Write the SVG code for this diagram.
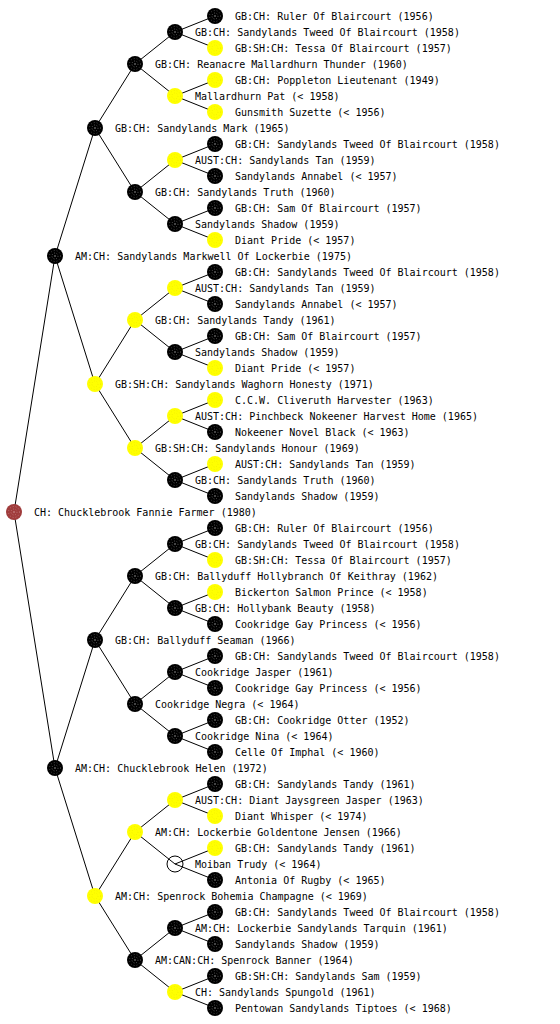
<svg xmlns="http://www.w3.org/2000/svg" xmlns:xlink="http://www.w3.org/1999/xlink" width="560" height="1024" viewBox="0 0 560 1024">
<style>
text{font-family:"DejaVu Sans Mono","Liberation Mono",monospace;font-size:10px;fill:#000}
.e line{stroke:#000;stroke-width:1}
</style>
<defs>
<g id="blk"><circle r="8" fill="#000"/><circle r="5.5" fill="none" stroke="#888" stroke-width="0.6" stroke-dasharray="0.8 2.2"/><circle r="3" fill="none" stroke="#aaa" stroke-width="0.6" stroke-dasharray="0.8 1.8"/><circle r="0.7" fill="#bbb"/></g>
<g id="yel"><circle r="8" fill="#ffff00"/><circle r="5.5" fill="none" stroke="#e8e000" stroke-width="0.6" stroke-dasharray="0.8 2.2"/><circle r="3" fill="none" stroke="#e8e000" stroke-width="0.6" stroke-dasharray="0.8 1.8"/></g>
<g id="red"><circle r="8" fill="#a03c3c"/><circle r="5.5" fill="none" stroke="#d8a0a0" stroke-width="0.6" stroke-dasharray="0.8 2.2"/><circle r="3" fill="none" stroke="#d8a0a0" stroke-width="0.6" stroke-dasharray="0.8 1.8"/><circle r="0.7" fill="#e0b0b0"/></g>
<g id="wht"><circle r="8" fill="none" stroke="#000" stroke-width="1"/></g>
</defs>
<rect width="560" height="1024" fill="#fff"/>
<g class="e" id="connectors">
<line x1="14" y1="512" x2="55" y2="256"/><line x1="14" y1="512" x2="55" y2="768"/>
<line x1="55" y1="256" x2="95" y2="128"/><line x1="55" y1="256" x2="95" y2="384"/>
<line x1="55" y1="768" x2="95" y2="640"/><line x1="55" y1="768" x2="95" y2="896"/>
<line x1="95" y1="128" x2="135" y2="64"/><line x1="95" y1="128" x2="135" y2="192"/>
<line x1="95" y1="384" x2="135" y2="320"/><line x1="95" y1="384" x2="135" y2="448"/>
<line x1="95" y1="640" x2="135" y2="576"/><line x1="95" y1="640" x2="135" y2="704"/>
<line x1="95" y1="896" x2="135" y2="832"/><line x1="95" y1="896" x2="135" y2="960"/>
<line x1="135" y1="64" x2="175" y2="32"/><line x1="135" y1="64" x2="175" y2="96"/>
<line x1="135" y1="192" x2="175" y2="160"/><line x1="135" y1="192" x2="175" y2="224"/>
<line x1="135" y1="320" x2="175" y2="288"/><line x1="135" y1="320" x2="175" y2="352"/>
<line x1="135" y1="448" x2="175" y2="416"/><line x1="135" y1="448" x2="175" y2="480"/>
<line x1="135" y1="576" x2="175" y2="544"/><line x1="135" y1="576" x2="175" y2="608"/>
<line x1="135" y1="704" x2="175" y2="672"/><line x1="135" y1="704" x2="175" y2="736"/>
<line x1="135" y1="832" x2="175" y2="800"/><line x1="135" y1="832" x2="175" y2="864"/>
<line x1="135" y1="960" x2="175" y2="928"/><line x1="135" y1="960" x2="175" y2="992"/>
<line x1="175" y1="32" x2="215" y2="16"/><line x1="175" y1="32" x2="215" y2="48"/>
<line x1="175" y1="96" x2="215" y2="80"/><line x1="175" y1="96" x2="215" y2="112"/>
<line x1="175" y1="160" x2="215" y2="144"/><line x1="175" y1="160" x2="215" y2="176"/>
<line x1="175" y1="224" x2="215" y2="208"/><line x1="175" y1="224" x2="215" y2="240"/>
<line x1="175" y1="288" x2="215" y2="272"/><line x1="175" y1="288" x2="215" y2="304"/>
<line x1="175" y1="352" x2="215" y2="336"/><line x1="175" y1="352" x2="215" y2="368"/>
<line x1="175" y1="416" x2="215" y2="400"/><line x1="175" y1="416" x2="215" y2="432"/>
<line x1="175" y1="480" x2="215" y2="464"/><line x1="175" y1="480" x2="215" y2="496"/>
<line x1="175" y1="544" x2="215" y2="528"/><line x1="175" y1="544" x2="215" y2="560"/>
<line x1="175" y1="608" x2="215" y2="592"/><line x1="175" y1="608" x2="215" y2="624"/>
<line x1="175" y1="672" x2="215" y2="656"/><line x1="175" y1="672" x2="215" y2="688"/>
<line x1="175" y1="736" x2="215" y2="720"/><line x1="175" y1="736" x2="215" y2="752"/>
<line x1="175" y1="800" x2="215" y2="784"/><line x1="175" y1="800" x2="215" y2="816"/>
<line x1="175" y1="864" x2="215" y2="848"/><line x1="175" y1="864" x2="215" y2="880"/>
<line x1="175" y1="928" x2="215" y2="912"/><line x1="175" y1="928" x2="215" y2="944"/>
<line x1="175" y1="992" x2="215" y2="976"/><line x1="175" y1="992" x2="215" y2="1008"/>
</g>
<g id="n0"><use xlink:href="#red" x="14" y="512"/><text x="34" y="516">CH: Chucklebrook Fannie Farmer (1980)</text></g>
<g id="n1a"><use xlink:href="#blk" x="55" y="256"/><text x="75" y="260">AM:CH: Sandylands Markwell Of Lockerbie (1975)</text></g>
<g id="n1b"><use xlink:href="#blk" x="55" y="768"/><text x="75" y="772">AM:CH: Chucklebrook Helen (1972)</text></g>
<g id="n2a"><use xlink:href="#blk" x="95" y="128"/><text x="115" y="132">GB:CH: Sandylands Mark (1965)</text></g>
<g id="n2b"><use xlink:href="#yel" x="95" y="384"/><text x="115" y="388">GB:SH:CH: Sandylands Waghorn Honesty (1971)</text></g>
<g id="n2c"><use xlink:href="#blk" x="95" y="640"/><text x="115" y="644">GB:CH: Ballyduff Seaman (1966)</text></g>
<g id="n2d"><use xlink:href="#yel" x="95" y="896"/><text x="115" y="900">AM:CH: Spenrock Bohemia Champagne (&lt; 1969)</text></g>
<g id="n3a"><use xlink:href="#blk" x="135" y="64"/><text x="155" y="68">GB:CH: Reanacre Mallardhurn Thunder (1960)</text></g>
<g id="n3b"><use xlink:href="#blk" x="135" y="192"/><text x="155" y="196">GB:CH: Sandylands Truth (1960)</text></g>
<g id="n3c"><use xlink:href="#yel" x="135" y="320"/><text x="155" y="324">GB:CH: Sandylands Tandy (1961)</text></g>
<g id="n3d"><use xlink:href="#yel" x="135" y="448"/><text x="155" y="452">GB:SH:CH: Sandylands Honour (1969)</text></g>
<g id="n3e"><use xlink:href="#blk" x="135" y="576"/><text x="155" y="580">GB:CH: Ballyduff Hollybranch Of Keithray (1962)</text></g>
<g id="n3f"><use xlink:href="#blk" x="135" y="704"/><text x="155" y="708">Cookridge Negra (&lt; 1964)</text></g>
<g id="n3g"><use xlink:href="#yel" x="135" y="832"/><text x="155" y="836">AM:CH: Lockerbie Goldentone Jensen (1966)</text></g>
<g id="n3h"><use xlink:href="#blk" x="135" y="960"/><text x="155" y="964">AM:CAN:CH: Spenrock Banner (1964)</text></g>
<g id="n4a"><use xlink:href="#blk" x="175" y="32"/><text x="195" y="36">GB:CH: Sandylands Tweed Of Blaircourt (1958)</text></g>
<g id="n4b"><use xlink:href="#yel" x="175" y="96"/><text x="195" y="100">Mallardhurn Pat (&lt; 1958)</text></g>
<g id="n4c"><use xlink:href="#yel" x="175" y="160"/><text x="195" y="164">AUST:CH: Sandylands Tan (1959)</text></g>
<g id="n4d"><use xlink:href="#blk" x="175" y="224"/><text x="195" y="228">Sandylands Shadow (1959)</text></g>
<g id="n4e"><use xlink:href="#yel" x="175" y="288"/><text x="195" y="292">AUST:CH: Sandylands Tan (1959)</text></g>
<g id="n4f"><use xlink:href="#blk" x="175" y="352"/><text x="195" y="356">Sandylands Shadow (1959)</text></g>
<g id="n4g"><use xlink:href="#yel" x="175" y="416"/><text x="195" y="420">AUST:CH: Pinchbeck Nokeener Harvest Home (1965)</text></g>
<g id="n4h"><use xlink:href="#blk" x="175" y="480"/><text x="195" y="484">GB:CH: Sandylands Truth (1960)</text></g>
<g id="n4i"><use xlink:href="#blk" x="175" y="544"/><text x="195" y="548">GB:CH: Sandylands Tweed Of Blaircourt (1958)</text></g>
<g id="n4j"><use xlink:href="#blk" x="175" y="608"/><text x="195" y="612">GB:CH: Hollybank Beauty (1958)</text></g>
<g id="n4k"><use xlink:href="#blk" x="175" y="672"/><text x="195" y="676">Cookridge Jasper (1961)</text></g>
<g id="n4l"><use xlink:href="#blk" x="175" y="736"/><text x="195" y="740">Cookridge Nina (&lt; 1964)</text></g>
<g id="n4m"><use xlink:href="#yel" x="175" y="800"/><text x="195" y="804">AUST:CH: Diant Jaysgreen Jasper (1963)</text></g>
<g id="n4n"><use xlink:href="#wht" x="175" y="864"/><text x="195" y="868">Moiban Trudy (&lt; 1964)</text></g>
<g id="n4o"><use xlink:href="#blk" x="175" y="928"/><text x="195" y="932">AM:CH: Lockerbie Sandylands Tarquin (1961)</text></g>
<g id="n4p"><use xlink:href="#yel" x="175" y="992"/><text x="195" y="996">CH: Sandylands Spungold (1961)</text></g>
<g id="n5a"><use xlink:href="#blk" x="215" y="16"/><text x="235" y="20">GB:CH: Ruler Of Blaircourt (1956)</text></g>
<g id="n5b"><use xlink:href="#yel" x="215" y="48"/><text x="235" y="52">GB:SH:CH: Tessa Of Blaircourt (1957)</text></g>
<g id="n5c"><use xlink:href="#yel" x="215" y="80"/><text x="235" y="84">GB:CH: Poppleton Lieutenant (1949)</text></g>
<g id="n5d"><use xlink:href="#yel" x="215" y="112"/><text x="235" y="116">Gunsmith Suzette (&lt; 1956)</text></g>
<g id="n5e"><use xlink:href="#blk" x="215" y="144"/><text x="235" y="148">GB:CH: Sandylands Tweed Of Blaircourt (1958)</text></g>
<g id="n5f"><use xlink:href="#blk" x="215" y="176"/><text x="235" y="180">Sandylands Annabel (&lt; 1957)</text></g>
<g id="n5g"><use xlink:href="#blk" x="215" y="208"/><text x="235" y="212">GB:CH: Sam Of Blaircourt (1957)</text></g>
<g id="n5h"><use xlink:href="#yel" x="215" y="240"/><text x="235" y="244">Diant Pride (&lt; 1957)</text></g>
<g id="n5i"><use xlink:href="#blk" x="215" y="272"/><text x="235" y="276">GB:CH: Sandylands Tweed Of Blaircourt (1958)</text></g>
<g id="n5j"><use xlink:href="#blk" x="215" y="304"/><text x="235" y="308">Sandylands Annabel (&lt; 1957)</text></g>
<g id="n5k"><use xlink:href="#blk" x="215" y="336"/><text x="235" y="340">GB:CH: Sam Of Blaircourt (1957)</text></g>
<g id="n5l"><use xlink:href="#yel" x="215" y="368"/><text x="235" y="372">Diant Pride (&lt; 1957)</text></g>
<g id="n5m"><use xlink:href="#yel" x="215" y="400"/><text x="235" y="404">C.C.W. Cliveruth Harvester (1963)</text></g>
<g id="n5n"><use xlink:href="#blk" x="215" y="432"/><text x="235" y="436">Nokeener Novel Black (&lt; 1963)</text></g>
<g id="n5o"><use xlink:href="#yel" x="215" y="464"/><text x="235" y="468">AUST:CH: Sandylands Tan (1959)</text></g>
<g id="n5p"><use xlink:href="#blk" x="215" y="496"/><text x="235" y="500">Sandylands Shadow (1959)</text></g>
<g id="n5q"><use xlink:href="#blk" x="215" y="528"/><text x="235" y="532">GB:CH: Ruler Of Blaircourt (1956)</text></g>
<g id="n5r"><use xlink:href="#yel" x="215" y="560"/><text x="235" y="564">GB:SH:CH: Tessa Of Blaircourt (1957)</text></g>
<g id="n5s"><use xlink:href="#yel" x="215" y="592"/><text x="235" y="596">Bickerton Salmon Prince (&lt; 1958)</text></g>
<g id="n5t"><use xlink:href="#blk" x="215" y="624"/><text x="235" y="628">Cookridge Gay Princess (&lt; 1956)</text></g>
<g id="n5u"><use xlink:href="#blk" x="215" y="656"/><text x="235" y="660">GB:CH: Sandylands Tweed Of Blaircourt (1958)</text></g>
<g id="n5v"><use xlink:href="#blk" x="215" y="688"/><text x="235" y="692">Cookridge Gay Princess (&lt; 1956)</text></g>
<g id="n5w"><use xlink:href="#blk" x="215" y="720"/><text x="235" y="724">GB:CH: Cookridge Otter (1952)</text></g>
<g id="n5x"><use xlink:href="#blk" x="215" y="752"/><text x="235" y="756">Celle Of Imphal (&lt; 1960)</text></g>
<g id="n5y"><use xlink:href="#blk" x="215" y="784"/><text x="235" y="788">GB:CH: Sandylands Tandy (1961)</text></g>
<g id="n5z"><use xlink:href="#yel" x="215" y="816"/><text x="235" y="820">Diant Whisper (&lt; 1974)</text></g>
<g id="n5aa"><use xlink:href="#yel" x="215" y="848"/><text x="235" y="852">GB:CH: Sandylands Tandy (1961)</text></g>
<g id="n5ab"><use xlink:href="#blk" x="215" y="880"/><text x="235" y="884">Antonia Of Rugby (&lt; 1965)</text></g>
<g id="n5ac"><use xlink:href="#blk" x="215" y="912"/><text x="235" y="916">GB:CH: Sandylands Tweed Of Blaircourt (1958)</text></g>
<g id="n5ad"><use xlink:href="#blk" x="215" y="944"/><text x="235" y="948">Sandylands Shadow (1959)</text></g>
<g id="n5ae"><use xlink:href="#blk" x="215" y="976"/><text x="235" y="980">GB:SH:CH: Sandylands Sam (1959)</text></g>
<g id="n5af"><use xlink:href="#blk" x="215" y="1008"/><text x="235" y="1012">Pentowan Sandylands Tiptoes (&lt; 1968)</text></g>
</svg>
